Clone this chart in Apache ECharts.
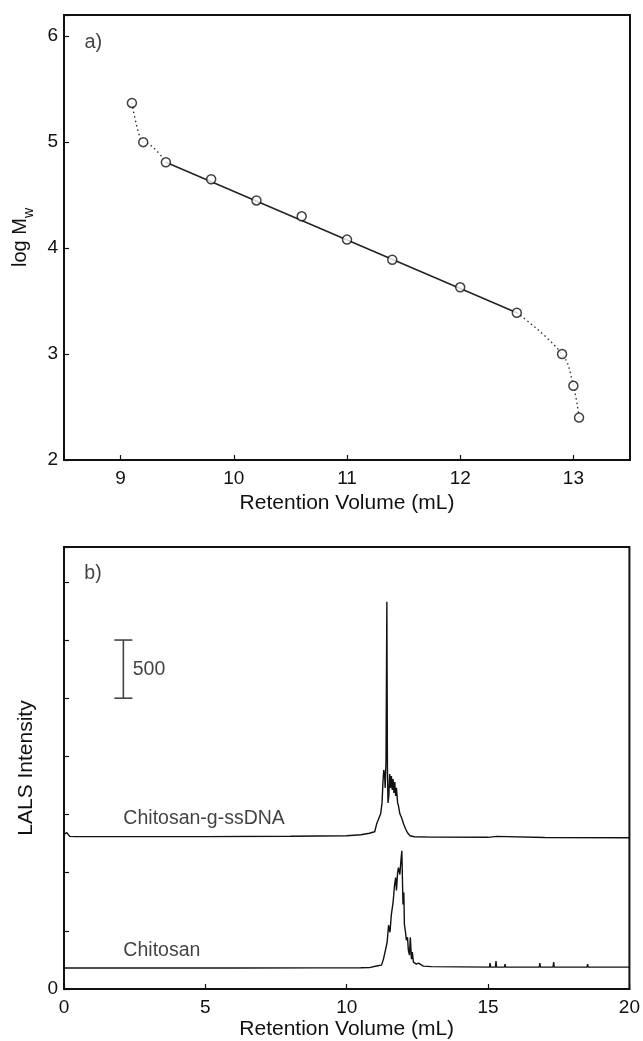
<!DOCTYPE html>
<html>
<head>
<meta charset="utf-8">
<script src="https://cdn.jsdelivr.net/npm/echarts@6/dist/echarts.min.js"></script>
<style>
  html, body { margin: 0; padding: 0; background: #fff; }
  #chart { width: 643px; height: 1041px; }
</style>
</head>
<body>
<div id="chart"></div>
<script>
// panel a) calibration points
var calVol = [9.1, 9.2, 9.4, 9.8, 10.2, 10.6, 11.0, 11.4, 12.0, 12.5, 12.9, 13.0, 13.05];
var calLogMw = [5.37, 5.0, 4.81, 4.65, 4.45, 4.30, 4.08, 3.89, 3.63, 3.39, 3.0, 2.7, 2.4];
// linear part (fit line ends)
var fitVol = [9.4, 12.5];
var fitLogMw = [4.81, 3.39];
var calVolTicks = [9, 10, 11, 12, 13];

// panel b) LALS traces
var ssdnaVol = [0, 0.1, 0.15, 0.2, 0.4, 2, 5, 8, 10, 10.5, 10.8, 10.99, 11.06, 11.13, 11.2, 11.25, 11.28, 11.31,
  11.34, 11.36, 11.39, 11.42, 11.44, 11.46, 11.49, 11.52, 11.55, 11.58, 11.61, 11.64, 11.67, 11.7, 11.73, 11.76,
  11.8, 11.83, 11.88, 11.94, 12.01, 12.08, 12.15, 12.24, 12.39, 13, 15, 15.3, 15.35, 17, 20];
var ssdnaLals = [1330, 1345, 1352, 1312, 1310, 1310, 1310, 1313, 1318, 1326, 1339, 1352, 1420, 1463, 1506, 1600, 1771, 1883,
  1848, 1729, 1968, 3329, 1900, 1600, 1660, 1848, 1729, 1831, 1711, 1806, 1686, 1780, 1660, 1729,
  1600, 1575, 1506, 1472, 1420, 1378, 1343, 1318, 1309, 1306, 1304, 1312, 1304, 1302, 1300];

var chitVol = [0, 3, 6, 9, 10.5, 10.8, 10.85, 11.1, 11.23, 11.3, 11.37, 11.43, 11.48, 11.53, 11.58, 11.64, 11.69,
  11.73, 11.76, 11.8, 11.83, 11.88, 11.92, 11.95, 11.99, 12.02, 12.04, 12.08, 12.11, 12.15, 12.18, 12.22, 12.25,
  12.29, 12.32, 12.36, 12.46, 12.54, 12.71, 13, 14, 15.05, 15.07, 15.09, 15.26, 15.28, 15.3, 15.58, 15.6, 15.62,
  16.81, 16.83, 16.85, 17.3, 17.32, 17.34, 18.5, 18.52, 18.54, 20];
var chitLals = [180, 180, 181, 182, 183, 184, 197, 200, 205, 257, 334, 402, 548, 488, 642, 744, 890,
  958, 847, 1001, 1044, 984, 1112, 1189, 727, 830, 556, 488, 419, 445, 334, 291, 445,
  257, 317, 231, 214, 222, 197, 192, 190, 188, 222, 188, 188, 240, 188, 188, 214, 188,
  188, 222, 188, 188, 231, 188, 188, 214, 188, 188];

// scale bar (500 units)
var scaleBarVol = 2.1;
var scaleBarLow = 2500;
var scaleBarHigh = 3000;

var traceNames = ['Chitosan-g-ssDNA', 'Chitosan'];

var font = "'Liberation Sans', Arial, sans-serif";
var ink = '#111';

function zip(a, b) {
  return a.map(function (v, i) { return [v, b[i]]; });
}
function intOnly(v) {
  return Math.abs(v - Math.round(v)) < 1e-6 ? String(Math.round(v)) : '';
}

var calPts = zip(calVol, calLogMw);

var chart = echarts.init(document.getElementById('chart'), null, {renderer: 'canvas'});

var axisLine = {lineStyle: {color: ink, width: 2}};
var axisTick = {inside: true, length: 5, lineStyle: {color: ink, width: 1.2}};

chart.setOption({
  animation: false,
  backgroundColor: '#fff',
  textStyle: {fontFamily: font},
  grid: [
    {left: 64, top: 15, right: 13, height: 445, show: true, borderColor: ink, borderWidth: 2},
    {left: 64, top: 547, right: 12, height: 445, show: true, borderColor: ink, borderWidth: 2}
  ],
  xAxis: [
    {
      gridIndex: 0, type: 'value', min: 8.5, max: 13.5,
      axisLine: axisLine, splitLine: {show: false},
      axisTick: {inside: true, length: 5, lineStyle: {color: ink, width: 1.2}, customValues: calVolTicks},
      axisLabel: {color: ink, fontSize: 19, margin: 9, customValues: calVolTicks, formatter: intOnly},
      name: 'Retention Volume (mL)', nameLocation: 'middle', nameGap: 33,
      nameTextStyle: {color: ink, fontSize: 21}
    },
    {
      gridIndex: 1, type: 'value', min: 0, max: 20, interval: 5,
      axisLine: axisLine, axisTick: axisTick, splitLine: {show: false},
      axisLabel: {color: ink, fontSize: 19, margin: 9},
      name: 'Retention Volume (mL)', nameLocation: 'middle', nameGap: 30,
      nameTextStyle: {color: ink, fontSize: 21}
    }
  ],
  yAxis: [
    {
      gridIndex: 0, type: 'value', min: 2, max: 6.2, interval: 1,
      axisLine: axisLine, axisTick: axisTick, splitLine: {show: false},
      axisLabel: {color: ink, fontSize: 19, margin: 6, formatter: intOnly},
      name: '{a|log M}{b|w}', nameLocation: 'middle', nameRotate: 90, nameGap: 24,
      nameTextStyle: {
        color: ink,
        rich: {
          a: {fontSize: 20, color: ink, fontFamily: font, lineHeight: 22, verticalAlign: 'top'},
          b: {fontSize: 14, color: ink, fontFamily: font, lineHeight: 14, verticalAlign: 'top', padding: [12, 0, 0, 0]}
        }
      }
    },
    {
      gridIndex: 1, type: 'value', min: 0, max: 3800, interval: 500,
      axisLine: axisLine, axisTick: axisTick, splitLine: {show: false},
      axisLabel: {color: ink, fontSize: 19, margin: 6, formatter: function (v) { return v === 0 ? '0' : ''; }},
      name: 'LALS Intensity', nameLocation: 'middle', nameRotate: 90, nameGap: 21,
      nameTextStyle: {color: ink, fontSize: 21}
    }
  ],
  series: [
    // panel a) dotted curved ends
    {
      type: 'line', xAxisIndex: 0, yAxisIndex: 0, data: calPts.slice(0, 3),
      smooth: 0.4, smoothMonotone: 'x', showSymbol: false, silent: true,
      lineStyle: {color: '#333', width: 1.4, type: [1.5, 3]}
    },
    {
      type: 'line', xAxisIndex: 0, yAxisIndex: 0, data: calPts.slice(9),
      smooth: 0.4, showSymbol: false, silent: true,
      lineStyle: {color: '#333', width: 1.4, type: [1.5, 3]}
    },
    // linear fit
    {
      type: 'line', xAxisIndex: 0, yAxisIndex: 0, data: zip(fitVol, fitLogMw),
      showSymbol: false, silent: true,
      lineStyle: {color: '#222', width: 1.5}
    },
    // calibration points
    {
      type: 'scatter', xAxisIndex: 0, yAxisIndex: 0, data: calPts, z: 5,
      symbol: 'circle', symbolSize: 9,
      itemStyle: {color: '#fff', borderColor: '#111', borderWidth: 1.5}
    },
    // panel b) traces
    {
      type: 'line', xAxisIndex: 1, yAxisIndex: 1, data: zip(ssdnaVol, ssdnaLals),
      showSymbol: false, silent: true,
      lineStyle: {color: '#111', width: 1.4}
    },
    {
      type: 'line', xAxisIndex: 1, yAxisIndex: 1, data: zip(chitVol, chitLals),
      showSymbol: false, silent: true,
      lineStyle: {color: '#111', width: 1.4}
    },
    // scale bar
    {
      type: 'custom', xAxisIndex: 1, yAxisIndex: 1, silent: true,
      data: [[scaleBarVol, scaleBarLow, scaleBarHigh]],
      encode: {x: 0, y: [1, 2]},
      renderItem: function (params, api) {
        var lo = api.coord([api.value(0), api.value(1)]);
        var hi = api.coord([api.value(0), api.value(2)]);
        var st = {stroke: '#444', lineWidth: 1.6};
        return {
          type: 'group',
          children: [
            {type: 'line', shape: {x1: lo[0], y1: lo[1], x2: hi[0], y2: hi[1]}, style: st},
            {type: 'line', shape: {x1: lo[0] - 9, y1: lo[1], x2: lo[0] + 9, y2: lo[1]}, style: st},
            {type: 'line', shape: {x1: hi[0] - 9, y1: hi[1], x2: hi[0] + 9, y2: hi[1]}, style: st}
          ]
        };
      }
    },
    // text annotations
    {
      type: 'scatter', xAxisIndex: 0, yAxisIndex: 0, symbolSize: 0, silent: true,
      data: [[8.68, 5.94, 'a)']],
      label: {show: true, position: [0, 0], align: 'left', verticalAlign: 'middle',
        color: ink, fontSize: 20, formatter: function (p) { return p.data[2]; }}
    },
    {
      type: 'scatter', xAxisIndex: 1, yAxisIndex: 1, symbolSize: 0, silent: true,
      data: [[0.72, 3568, 'b)'], [2.1, 1463, traceNames[0]], [2.1, 334, traceNames[1]],
        [scaleBarVol + 0.33, (scaleBarLow + scaleBarHigh) / 2, String(scaleBarHigh - scaleBarLow)]],
      label: {show: true, position: [0, 0], align: 'left', verticalAlign: 'middle',
        color: ink, fontSize: 19.5, formatter: function (p) { return p.data[2]; }}
    }
  ]
});
</script>
</body>
</html>
